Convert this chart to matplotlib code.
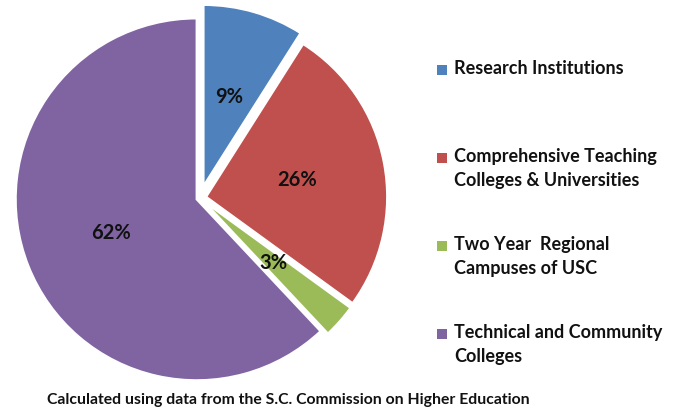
import matplotlib
matplotlib.use('Agg')
import matplotlib.pyplot as plt
from matplotlib.patches import Rectangle

plt.rcParams['font.family'] = ['Lato', 'DejaVu Sans']

categories = ['Research Institutions',
              'Comprehensive Teaching\nColleges & Universities',
              'Two Year  Regional\nCampuses of USC',
              'Technical and Community\nColleges']
shares = [9, 26, 3, 62]
colors = ['#4F81BD', '#C0504D', '#9BBB59', '#8064A2']
explode = [0.07, 0.035, 0.03, 0.02]
caption = 'Calculated using data from the S.C. Commission on Higher Education'

W, H = 674, 411
fig = plt.figure(figsize=(W / 100, H / 100), dpi=100)

# square axes so that one unit of radius is ~181 px
side = 398
cx, cy = 200, 198
ax = fig.add_axes([(cx - side / 2) / W, (H - cy - side / 2) / H, side / W, side / H])
wedges, texts, autotexts = ax.pie(
    shares, colors=colors, explode=explode, startangle=90, counterclock=False,
    autopct='%.0f%%', pctdistance=0.51,
    wedgeprops=dict(edgecolor='white', linewidth=1.5),
    textprops=dict(fontsize=14.5, fontweight='bold', color='#111111'))
ax.set_xlim(-1.1, 1.1)
ax.set_ylim(-1.1, 1.1)
ax.set_aspect('equal')
ax.axis('off')

# legend on the right, first line of each entry
first_line_y = [70, 158, 246, 334]
for label, color, y in zip(categories, colors, first_line_y):
    fig.patches.append(Rectangle((437 / W, (H - y - 5) / H), 10 / W, 10 / H,
                                 transform=fig.transFigure, facecolor=color,
                                 edgecolor='none'))
    fig.text(454 / W, (H - y + 10) / H, label, fontsize=13, fontweight='bold',
             color='#111111', va='top', ha='left', linespacing=1.5)

fig.text(47 / W, (H - 400) / H, caption, fontsize=11.3, fontweight='bold',
         color='#111111', va='center', ha='left')

fig.savefig('out.png', dpi=100, facecolor='white')
